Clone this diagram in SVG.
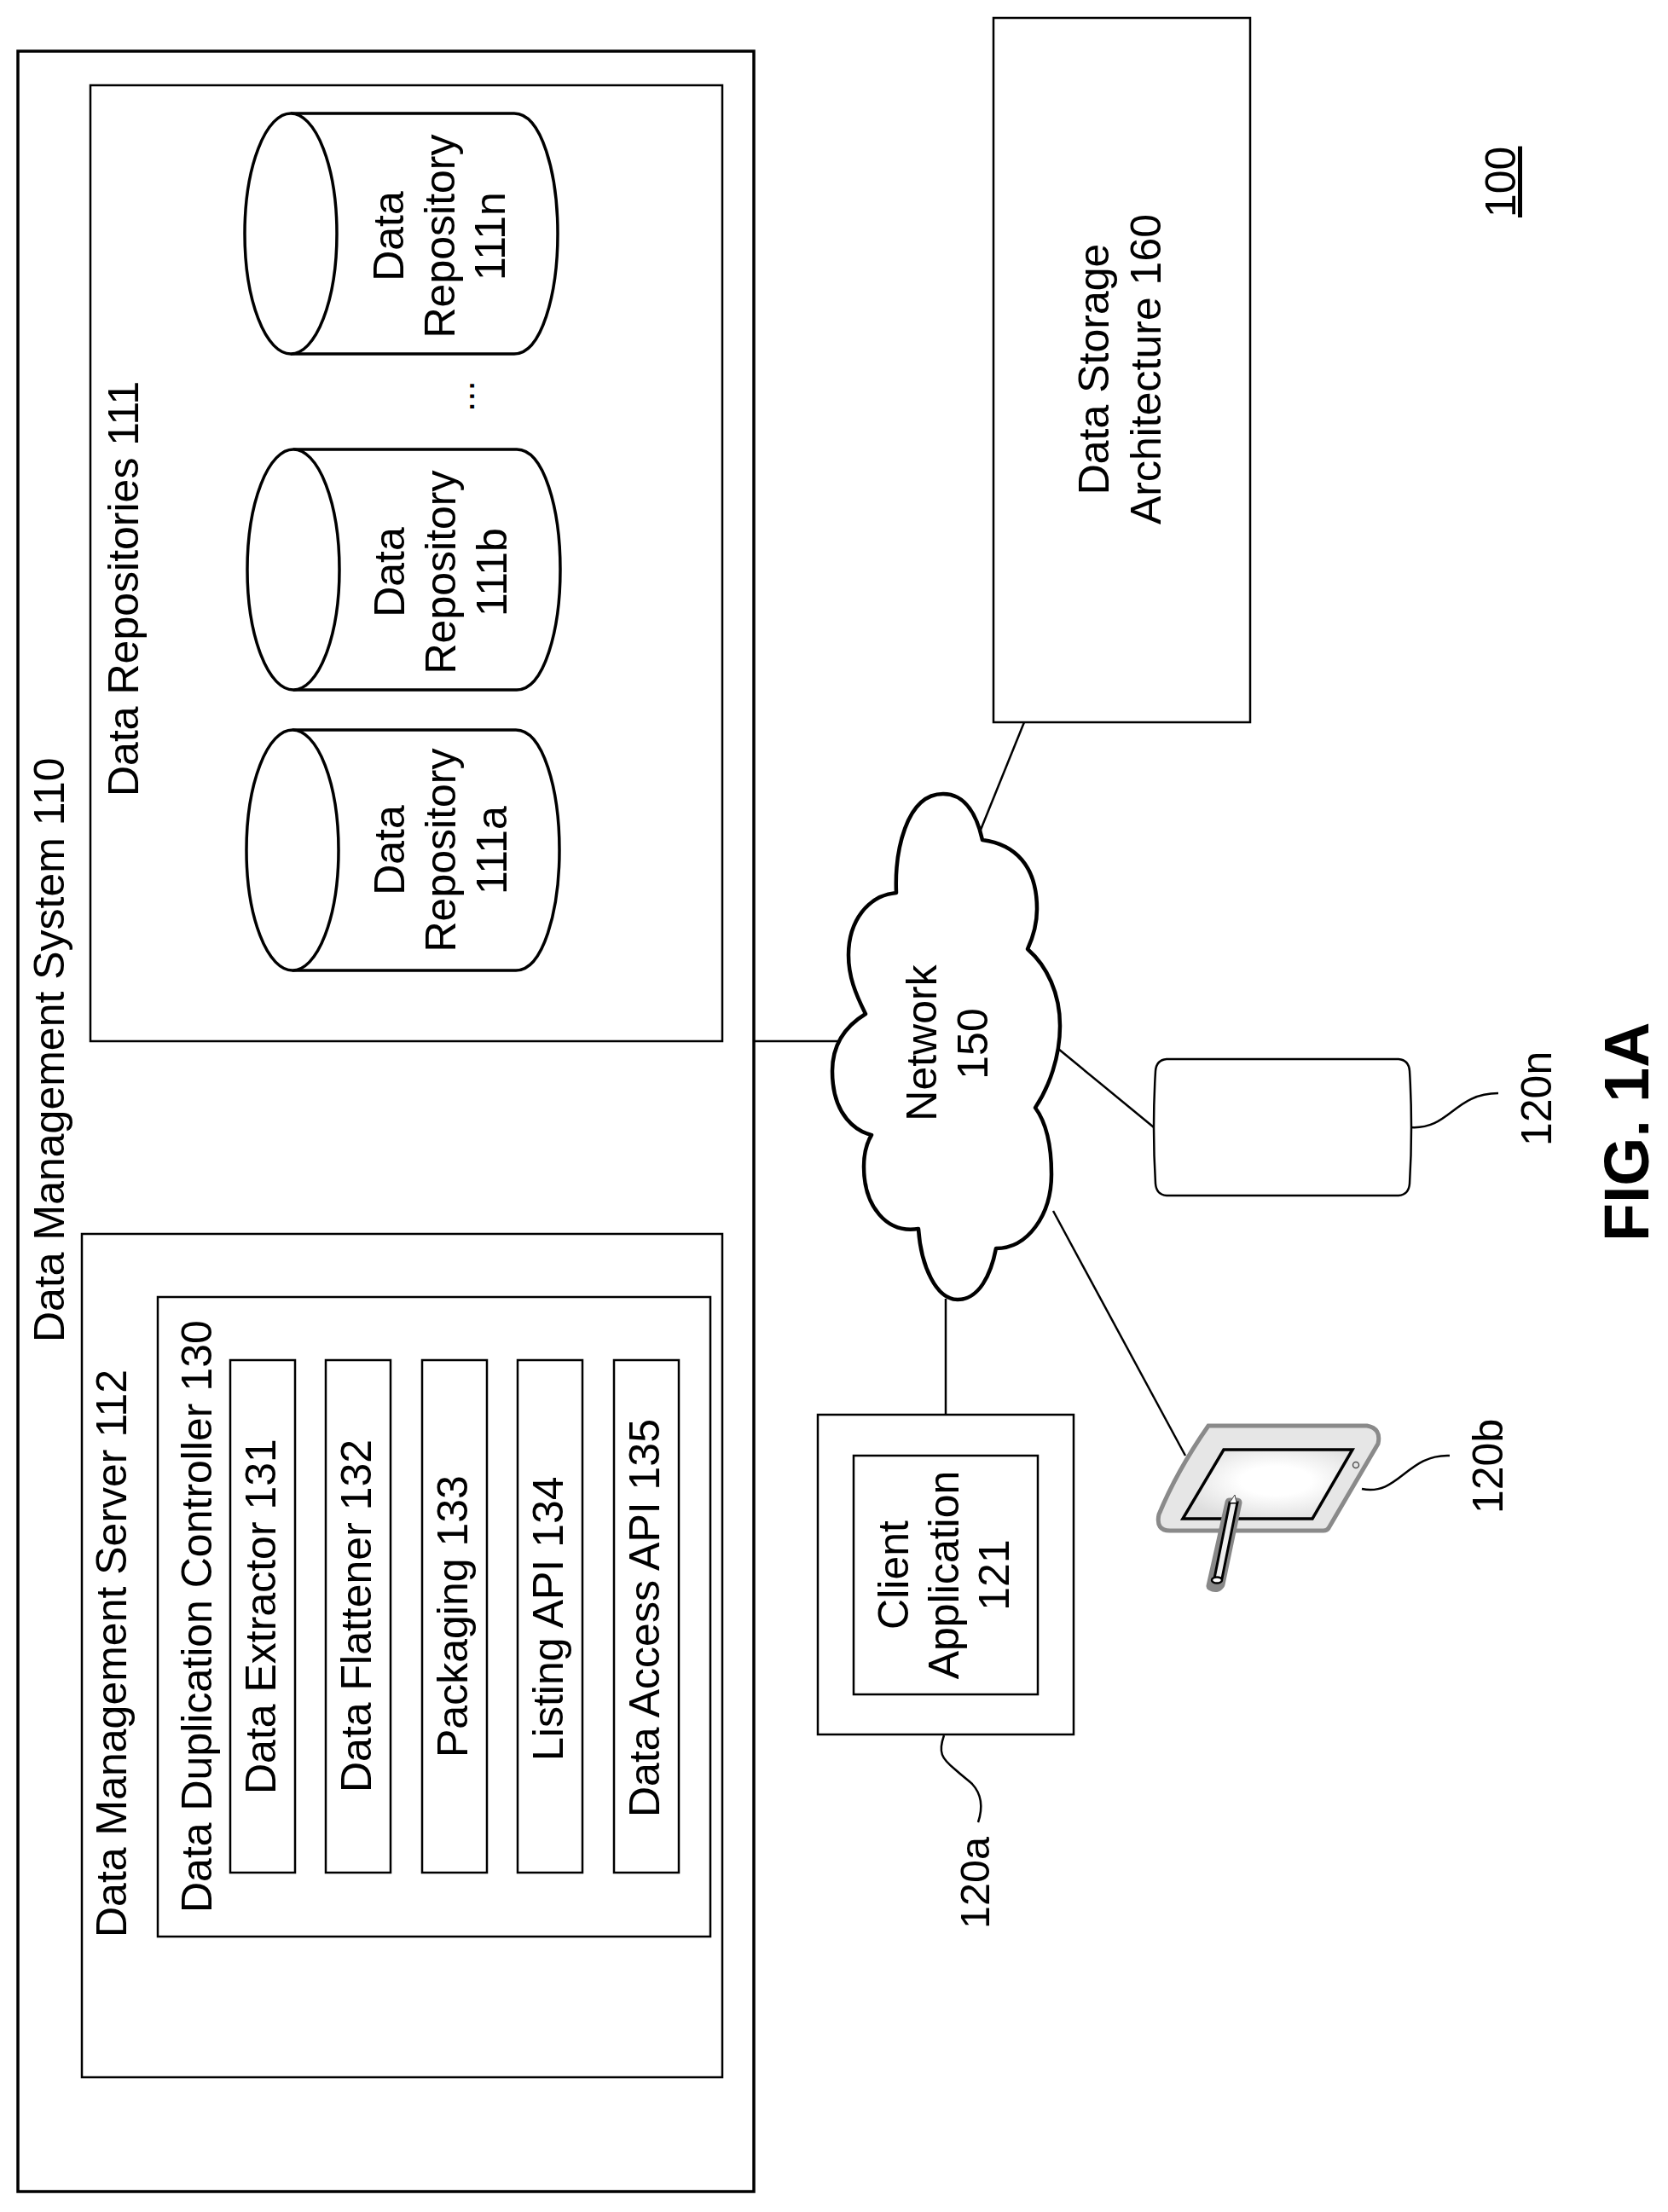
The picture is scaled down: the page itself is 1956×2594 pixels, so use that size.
<svg xmlns="http://www.w3.org/2000/svg" width="1956" height="2594" viewBox="0 0 1956 2594">
<style>
.b{fill:#fff;stroke:#000;stroke-width:2.5}
.c{fill:none;stroke:#000;stroke-width:2.5}
.cy{fill:#fff;stroke:#000;stroke-width:3.5}
text{font-family:"Liberation Sans",Arial,sans-serif;font-size:50px;fill:#000}
.m{text-anchor:middle}
</style>
<defs>
<radialGradient id="sc" cx="0.55" cy="0.45" r="0.6"><stop offset="0.35" stop-color="#fff"/><stop offset="1" stop-color="#dedede"/></radialGradient>
<g id="cyl">
<path class="cy" d="M54 0H316C348 0 367 70 367 141S348 282 316 282H54"/>
<ellipse class="cy" cx="54" cy="141" rx="54" ry="141"/>
</g>
</defs>
<rect width="1956" height="2594" fill="#fff"/>
<g id="connectors">
<path class="c" d="M884 1221H985"/>
<path class="c" d="M1201 847L1148 978"/>
<path class="c" d="M1235 1225L1353 1322"/>
<path class="c" d="M1235 1420L1390 1707"/>
<path class="c" d="M1109 1523V1659"/>
<path class="c" d="M1654 1322C1700 1325 1705 1282 1757 1282"/>
<path class="c" d="M1597 1746C1640 1755 1650 1705 1700 1707"/>
<path class="c" d="M1107 2035C1100 2055 1104 2062 1120 2075C1130 2084 1136 2088 1140 2092C1152 2105 1152 2122 1147 2137"/>
</g>
<g id="system110">
<rect class="b" x="21" y="60" width="863" height="2510" style="stroke-width:3.5"/>
<text transform="translate(75 1574) rotate(-90)">Data Management System 110</text>
</g>
<g id="repositories111">
<rect class="b" x="106" y="100" width="741" height="1121"/>
<text transform="translate(162 934) rotate(-90)">Data Repositories 111</text>
</g>
<g id="repo111a">
<use href="#cyl" x="289" y="856"/>
<text class="m" transform="translate(474 997) rotate(-90)">Data</text>
<text class="m" transform="translate(534 997) rotate(-90)">Repository</text>
<text class="m" transform="translate(594 997) rotate(-90)">111a</text>
</g>
<g id="repo111b">
<use href="#cyl" x="290" y="527"/>
<text class="m" transform="translate(474 671) rotate(-90)">Data</text>
<text class="m" transform="translate(534 671) rotate(-90)">Repository</text>
<text class="m" transform="translate(594 671) rotate(-90)">111b</text>
</g>
<g id="repo111n">
<use href="#cyl" x="287" y="133"/>
<text class="m" transform="translate(473 277) rotate(-90)">Data</text>
<text class="m" transform="translate(533 277) rotate(-90)">Repository</text>
<text class="m" transform="translate(592 277) rotate(-90)">111n</text>
</g>
<text transform="translate(556 483) rotate(-90)" style="font-size:44px">...</text>
<g id="server112">
<rect class="b" x="96" y="1447" width="751" height="989"/>
<text transform="translate(148 2272) rotate(-90)">Data Management Server 112</text>
</g>
<g id="controller130">
<rect class="b" x="185" y="1521" width="648" height="750"/>
<text transform="translate(248 2243) rotate(-90)">Data Duplication Controller 130</text>
</g>
<g id="extractor131"><rect class="b" x="270" y="1595" width="76" height="601"/><text transform="translate(323 2104) rotate(-90)">Data Extractor 131</text></g>
<g id="flattener132"><rect class="b" x="382" y="1595" width="76" height="601"/><text transform="translate(435 2102) rotate(-90)">Data Flattener 132</text></g>
<g id="packaging133"><rect class="b" x="495" y="1595" width="76" height="601"/><text transform="translate(548 2061) rotate(-90)">Packaging 133</text></g>
<g id="listing134"><rect class="b" x="607" y="1595" width="76" height="601"/><text transform="translate(660 2065) rotate(-90)">Listing API 134</text></g>
<g id="access135"><rect class="b" x="720" y="1595" width="76" height="601"/><text transform="translate(773 2131) rotate(-90)">Data Access API 135</text></g>
<g id="storage160">
<rect class="b" x="1165" y="21" width="301" height="826"/>
<text class="m" transform="translate(1300 433) rotate(-90)">Data Storage</text>
<text class="m" transform="translate(1361 433) rotate(-90)">Architecture 160</text>
</g>
<g id="network150">
<path d="M1021.7 1331C1006 1327 976 1310 976 1256C976 1225 992 1203 1015 1189C1003 1165 995 1145 995 1120C995 1080 1018 1050 1051 1047C1049 1000 1062 931 1106 931C1133 931 1146 958 1152 985C1190 990 1216 1015 1216 1066C1216 1085 1211 1100 1205 1113C1228 1133 1243 1165 1243 1203C1243 1240 1230 1275 1214 1299C1228 1318 1233 1345 1233 1377C1233 1425 1205 1464 1168 1464C1162 1495 1148 1524 1123 1524C1098 1524 1080 1485 1077 1441C1040 1447 1013 1415 1013 1368C1013 1353 1016 1341 1022 1331Z" fill="#fff" stroke="#000" stroke-width="4.5" stroke-linejoin="round"/>
<text class="m" transform="translate(1098 1223) rotate(-90)">Network</text>
<text class="m" transform="translate(1158 1224) rotate(-90)">150</text>
</g>
<g id="client120a">
<rect class="b" x="959" y="1659" width="300" height="375"/>
<rect class="b" x="1001" y="1707" width="216" height="280"/>
<text class="m" transform="translate(1065 1847) rotate(-90)">Client</text>
<text class="m" transform="translate(1124 1847) rotate(-90)">Application</text>
<text class="m" transform="translate(1183 1847) rotate(-90)">121</text>
</g>
<g id="tablet120b">
<path d="M1417 1672H1603Q1620 1675 1616 1693L1558 1792Q1556 1795 1552 1795H1372Q1355 1795 1359 1776Q1380 1725 1417 1672Z" fill="#e6e6e6" stroke="#8a8a8a" stroke-width="5"/>
<path d="M1435 1700H1586L1539 1781H1387Z" fill="url(#sc)" stroke="#000" stroke-width="3.5"/>
<path d="M1442 1762H1451L1431 1858Q1427 1864 1420 1860Z" fill="#888" stroke="#888" stroke-width="11" stroke-linejoin="round"/>
<path d="M1442 1762H1451L1433 1851H1424Z" fill="#eee" stroke="#000" stroke-width="3"/>
<path d="M1442 1762L1448 1753L1450 1762" fill="#fff" stroke="#444" stroke-width="1"/>
<ellipse cx="1427" cy="1853" rx="6" ry="3.5" fill="#fff" stroke="#000" stroke-width="2.5"/>
<circle cx="1590" cy="1718" r="3.5" fill="none" stroke="#555" stroke-width="1.5"/>
</g>
<g id="device120n">
<path d="M1368 1242H1640Q1652 1243 1653 1256Q1657 1322 1653 1388Q1652 1401 1640 1402H1368Q1356 1401 1355 1388Q1351 1322 1355 1256Q1356 1243 1368 1242Z" class="b"/>
</g>
<text id="l120n" transform="translate(1819 1344) rotate(-90)">120n</text>
<text id="l120b" transform="translate(1762 1775) rotate(-90)">120b</text>
<text id="l120a" transform="translate(1160 2262) rotate(-90)" style="font-size:48.5px">120a</text>
<text id="l100" transform="translate(1777 255) rotate(-90)" text-decoration="underline">100</text>
<text id="fig" transform="translate(1933 1456) rotate(-90)" style="font-size:73.5px;font-weight:bold">FIG. 1A</text>
</svg>
